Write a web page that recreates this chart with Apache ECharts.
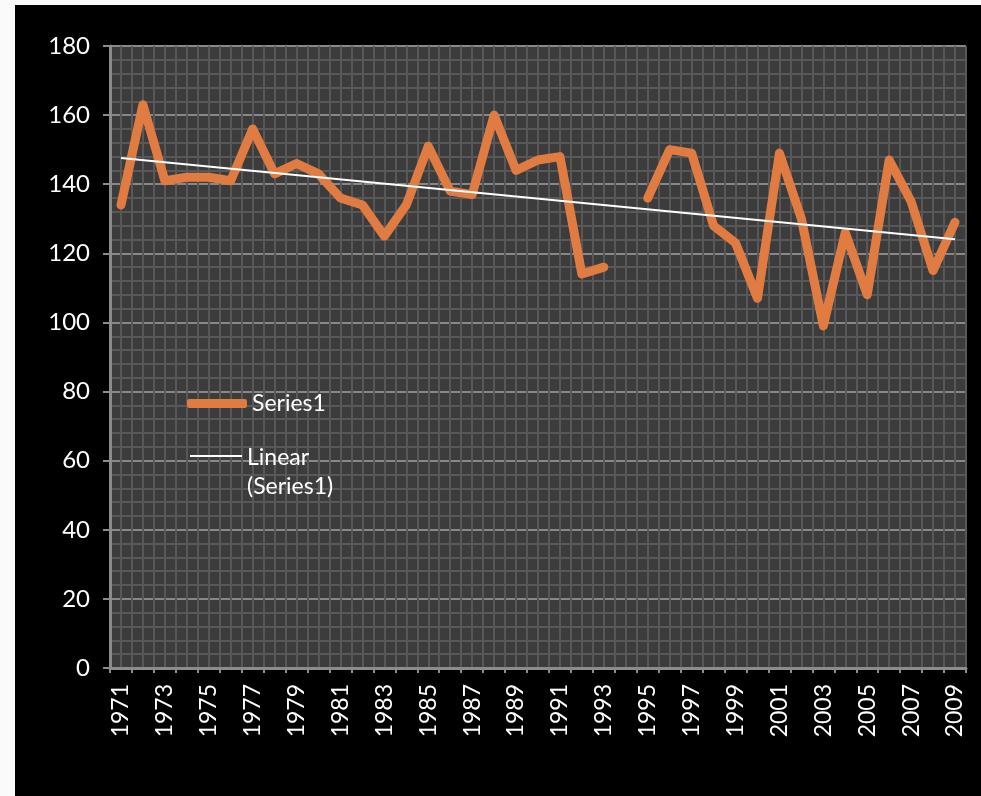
<!DOCTYPE html>
<html>
<head>
<meta charset="utf-8">
<script src="https://cdn.jsdelivr.net/npm/echarts@6/dist/echarts.min.js"></script>
<style>
  html, body { margin: 0; padding: 0; background: #fafafa; }
  #chart { position: absolute; left: 15px; top: 5px; width: 966px; height: 791px; background: #000; }
</style>
</head>
<body>
<div id="chart"></div>
<script>
// Years on the category axis
const years = [
  "1971", "1972", "1973", "1974", "1975", "1976", "1977", "1978", "1979", "1980",
  "1981", "1982", "1983", "1984", "1985", "1986", "1987", "1988", "1989", "1990",
  "1991", "1992", "1993", "1994", "1995", "1996", "1997", "1998", "1999", "2000",
  "2001", "2002", "2003", "2004", "2005", "2006", "2007", "2008", "2009"
];

// Series1 values (1994 missing)
const series1 = [
  134, 163, 141, 142, 142, 141, 156, 143, 146, 143,
  136, 134, 125, 134, 151, 138, 137, 160, 144, 147,
  148, 114, 116, null, 136, 150, 149, 128, 123, 107,
  149, 130, 99, 126, 108, 147, 135, 115, 129
];

// Linear trendline, read at first and last year
const trendEnds = [147.6, 124.1];

const yTicks = { min: 0, max: 180, interval: 20 };

const orange = "#e07c42";
const font = "Lato, 'Open Sans', sans-serif";

const trendData = years.map((y, i) =>
  i === 0 ? trendEnds[0] : i === years.length - 1 ? trendEnds[1] : null
);

const chart = echarts.init(document.getElementById("chart"));

const option = {
  backgroundColor: "#000",
  animation: false,
  textStyle: { fontFamily: font },
  grid: {
    left: 95,
    top: 41,
    right: 15,
    bottom: 128,
    show: true,
    backgroundColor: "#3c3c3c",
    borderWidth: 0,
  },
  legend: [
    {
      data: ["Series1"],
      left: 172,
      top: 384,
      padding: 0,
      icon: "roundRect",
      itemWidth: 60,
      itemHeight: 9,
      itemStyle: { color: orange },
      textStyle: { color: "#fff", fontSize: 23, fontFamily: font, lineHeight: 29 },
    },
    {
      data: ["Linear (Series1)"],
      left: 175,
      top: 438,
      padding: 0,
      // thin line placed near the top of a tall box so it sits beside the first text line
      icon: "path://M0,12L52,12L52,14L0,14Z M0,0L0,0 M0,58L0,58",
      symbolKeepAspect: false,
      itemWidth: 52,
      itemHeight: 58,
      itemStyle: { color: "#fff" },
      formatter: (name) => name.replace(" ", "\n"),
      textStyle: {
        color: "#fff",
        fontSize: 23,
        fontFamily: font,
        lineHeight: 29,
      },
    },
  ],
  xAxis: [
    {
      type: "category",
      data: years,
      boundaryGap: true,
      axisLine: { lineStyle: { color: "#8c8c8c", width: 3 } },
      axisTick: { show: true, interval: 0, length: 5, lineStyle: { color: "#8c8c8c", width: 2 } },
      axisLabel: {
        interval: 1,
        rotate: 90,
        color: "#fff",
        fontSize: 23,
        fontFamily: font,
        margin: 16,
      },
      splitLine: { show: false },
    },
    {
      // half-category vertical gridlines
      type: "value",
      min: 0,
      max: 78,
      interval: 1,
      position: "bottom",
      axisLine: { show: false },
      axisTick: { show: false },
      axisLabel: { show: false },
      splitLine: { show: true, lineStyle: { color: "#585858", width: 2 } },
    },
  ],
  yAxis: {
    type: "value",
    min: yTicks.min,
    max: yTicks.max,
    interval: yTicks.interval,
    axisLine: { show: true, lineStyle: { color: "#8c8c8c", width: 3 } },
    axisTick: { show: true, length: 7, lineStyle: { color: "#8c8c8c", width: 2 } },
    axisLabel: { color: "#fff", fontSize: 24, fontFamily: font, margin: 20 },
    splitLine: { show: true, lineStyle: { color: "#888888", width: 2 } },
    minorTick: { show: false, splitNumber: 5 },
    minorSplitLine: { show: true, lineStyle: { color: "#585858", width: 2 } },
  },
  series: [
    {
      name: "Series1",
      type: "line",
      data: series1,
      showSymbol: false,
      connectNulls: false,
      lineStyle: { color: orange, width: 9, cap: "round", join: "round" },
      itemStyle: { color: orange },
      z: 3,
    },
    {
      name: "Linear (Series1)",
      type: "line",
      data: trendData,
      connectNulls: true,
      showSymbol: false,
      lineStyle: { color: "#fff", width: 2 },
      itemStyle: { color: "#fff" },
      z: 4,
    },
  ],
};

chart.setOption(option);
</script>
</body>
</html>
